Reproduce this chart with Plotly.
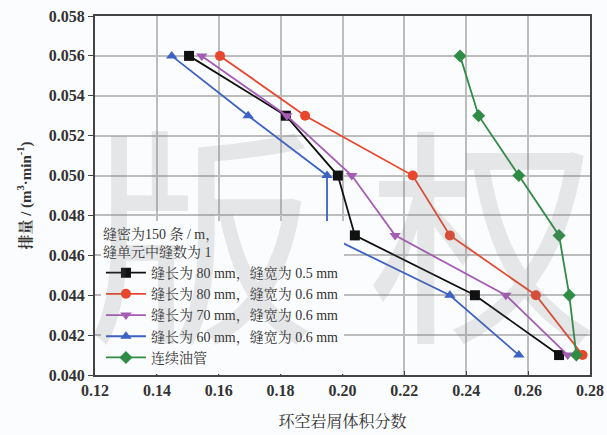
import plotly.graph_objects as go

flow = [0.056, 0.053, 0.050, 0.047, 0.044, 0.041]
black_x = [0.1504, 0.1817, 0.1985, 0.2040, 0.2428, 0.2700]
red_x = [0.1604, 0.1879, 0.2227, 0.2347, 0.2625, 0.2776]
purple_x = [0.1545, 0.1820, 0.2030, 0.2170, 0.2528, 0.2728]
blue_x = [0.1448, 0.1695, 0.1950, 0.1950, 0.2347, 0.2570]
green_x = [0.2380, 0.2440, 0.2570, 0.2700, 0.2733, 0.2756]

names = ["缝长为 80 mm，缝宽为 0.5 mm",
         "缝长为 80 mm，缝宽为 0.6 mm",
         "缝长为 70 mm，缝宽为 0.6 mm",
         "缝长为 60 mm，缝宽为 0.6 mm",
         "连续油管"]
xs = [black_x, red_x, purple_x, blue_x, green_x]
colors = ["#111111", "#e8472e", "#a45cb5", "#3d62c4", "#2f8c45"]
symbols = ["square", "circle", "triangle-down", "triangle-up", "diamond"]

x_ticks = [0.12, 0.14, 0.16, 0.18, 0.20, 0.22, 0.24, 0.26, 0.28]
y_ticks = [0.040, 0.042, 0.044, 0.046, 0.048, 0.050, 0.052, 0.054, 0.056, 0.058]

fig = go.Figure()
for n, x, c, s in zip(names, xs, colors, symbols):
    fig.add_trace(go.Scatter(x=x, y=flow, mode="lines+markers", name=n,
                             line=dict(color=c, width=1.8),
                             marker=dict(symbol=s, color=c, size=10)))

serif = "Liberation Serif"
cjk = "Liberation Serif, Noto Serif CJK SC, Noto Sans CJK SC"

fig.add_annotation(text="版 权", xref="paper", yref="paper", x=0.5, y=0.42,
                   showarrow=False,
                   font=dict(size=230, color="rgba(120,120,120,0.16)", family="Noto Sans CJK SC"))

fig.update_layout(
    width=607, height=435,
    margin=dict(l=95, r=17, t=16, b=60),
    paper_bgcolor="#fbfcfd", plot_bgcolor="#fbfcfd",
    font=dict(family=cjk, color="#333333"),
    legend=dict(x=0.012, y=0.43, xanchor="left", yanchor="top",
                bgcolor="rgba(251,252,253,1)", borderwidth=0,
                font=dict(size=14, family=cjk, color="#333333"),
                title=dict(text="缝密为150 条 / m，<br>缝单元中缝数为 1",
                           font=dict(size=14, family=cjk, color="#333333")),
                tracegroupgap=0, itemwidth=40),
    xaxis=dict(range=[0.12, 0.28], tickvals=x_ticks, automargin=False,
               ticktext=[f"{v:.2f}" for v in x_ticks],
               showgrid=True, gridcolor="#bdbdbd", gridwidth=1.5,
               showline=True, linecolor="#444444", linewidth=2, mirror=True,
               ticks="inside", ticklen=4, tickcolor="#444444",
               tickfont=dict(size=16, family=serif, color="#333333", weight="bold"),
               zeroline=False,
               title=dict(text="环空岩屑体积分数", font=dict(size=16, family=cjk, color="#333333"),
                          standoff=18)),
    yaxis=dict(range=[0.040, 0.058], tickvals=y_ticks, automargin=False,
               ticktext=[f"{v:.3f}" for v in y_ticks],
               showgrid=True, gridcolor="#bdbdbd", gridwidth=1.5,
               showline=True, linecolor="#444444", linewidth=2, mirror=True,
               ticks="outside", ticklen=5, tickcolor="#444444",
               tickfont=dict(size=16, family=serif, color="#333333", weight="bold"),
               zeroline=False,
               title=dict(text="排量 / (m<sup>3</sup>·min<sup>-1</sup>)",
                          font=dict(size=15, family=cjk, color="#333333", weight="bold"),
                          standoff=14)),
)

fig.write_html("out.html")
